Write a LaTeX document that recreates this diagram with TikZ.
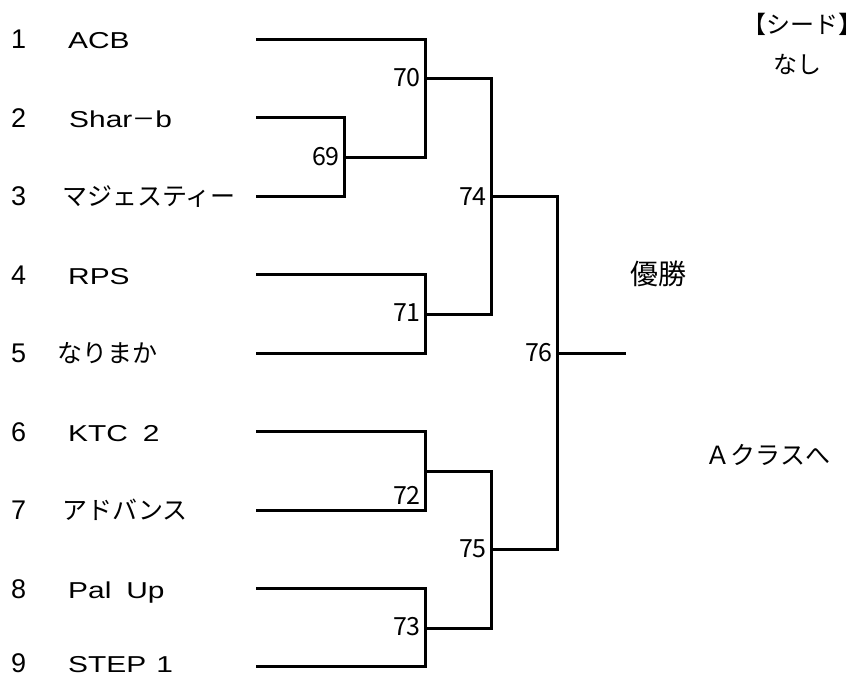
\documentclass[tikz,border=0pt]{standalone}
\usepackage{fontspec}
\setmainfont{Liberation Sans}
\newfontfamily\jp{Noto Sans CJK JP}
\newfontfamily\wide[FakeStretch=1.3]{Liberation Sans}
\begin{document}
\begin{tikzpicture}[x=1pt,y=-1pt,
  num/.style={anchor=base west, inner sep=0pt, font=\fontsize{27}{27}\selectfont},
  lteam/.style={anchor=base west, inner sep=0pt, font=\wide\fontsize{23}{23}\selectfont},
  jteam/.style={anchor=base west, inner sep=0pt, font=\jp\fontsize{25}{25}\selectfont},
  score/.style={anchor=east, inner sep=0pt, font=\jp\fontsize{25}{25}\selectfont},
  note/.style={inner sep=0pt, font=\jp\fontsize{25}{25}\selectfont},
  br/.style={line width=3pt, line join=miter}]
\useasboundingbox (0,0) rectangle (865,678);
% team rows
\foreach \i/\y in {1/39,2/117.5,3/196,4/274.5,5/353,6/431.5,7/510,8/588.5,9/666.5}{
  \coordinate (e\i) at (256,\y);
}
\foreach \i/\y in {1/48.5,2/127,3/205.5,4/284,5/362.5,6/441,7/519.5,8/598,9/672.5}{
  \node[num] (n\i) at (11,\y) {\i};
}
\node[lteam] (t1) at (68,48.5) {ACB};
\node[lteam] (t2) at (69,127.5) {Shar{\jp\fontsize{23}{23}\selectfont －}b};
\node[jteam] (t3) at (62,205) {マジェスティー};
\node[lteam] (t4) at (68,284) {RPS};
\node[jteam] (t5) at (57,362) {なりまか};
\node[lteam] (t6) at (68,441) {KTC\hspace{15pt}2};
\node[jteam] (t7) at (62,519) {アドバンス};
\node[lteam] (t8) at (68,598) {Pal\hspace{15pt}Up};
\node[lteam] (t9) at (68,672.5) {STEP\hspace{10pt}1};
% junctions
\coordinate (j69) at (344,157);
\coordinate (j70) at (425,78.5);
\coordinate (j71) at (425,314);
\coordinate (j72) at (425,471);
\coordinate (j73) at (425,628);
\coordinate (j74) at (491,196);
\coordinate (j75) at (491,549.5);
\coordinate (j76) at (557,353);
\coordinate (win) at (626,353);
% bracket lines
\draw[br] (e2) -| (j69) |- (e3);
\draw[br] (e1) -| (j70) |- (j69);
\draw[br] (e4) -| (j71) |- (e5);
\draw[br] (e6) -| (j72) |- (e7);
\draw[br] (e8) -| (j73) |- (e9);
\draw[br] (j70) -| (j74) |- (j71);
\draw[br] (j72) -| (j75) |- (j73);
\draw[br] (j74) -| (j76) |- (j75);
\draw[br] (j76) -- (win);
% match numbers
\node[score] (s69) at (340,157) {69};
\node[score] (s70) at (421,78) {70};
\node[score] (s71) at (421,313) {71};
\node[score] (s72) at (421,495) {72};
\node[score] (s73) at (421,627) {73};
\node[score] (s74) at (487,197) {74};
\node[score] (s75) at (487,549) {75};
\node[score] (s76) at (553,353) {76};
% notes
\node[note, font=\jp\fontsize{24}{24}\selectfont] (seed) at (802,24) {【シード】};
\node[note, font=\jp\fontsize{24}{24}\selectfont] (none) at (797,64) {なし};
\node[note, font=\jp\fontsize{28}{28}\selectfont] (champ) at (658,274) {優勝};
\node[note] (acls) at (768,455) {Ａクラスへ};
\end{tikzpicture}
\end{document}
